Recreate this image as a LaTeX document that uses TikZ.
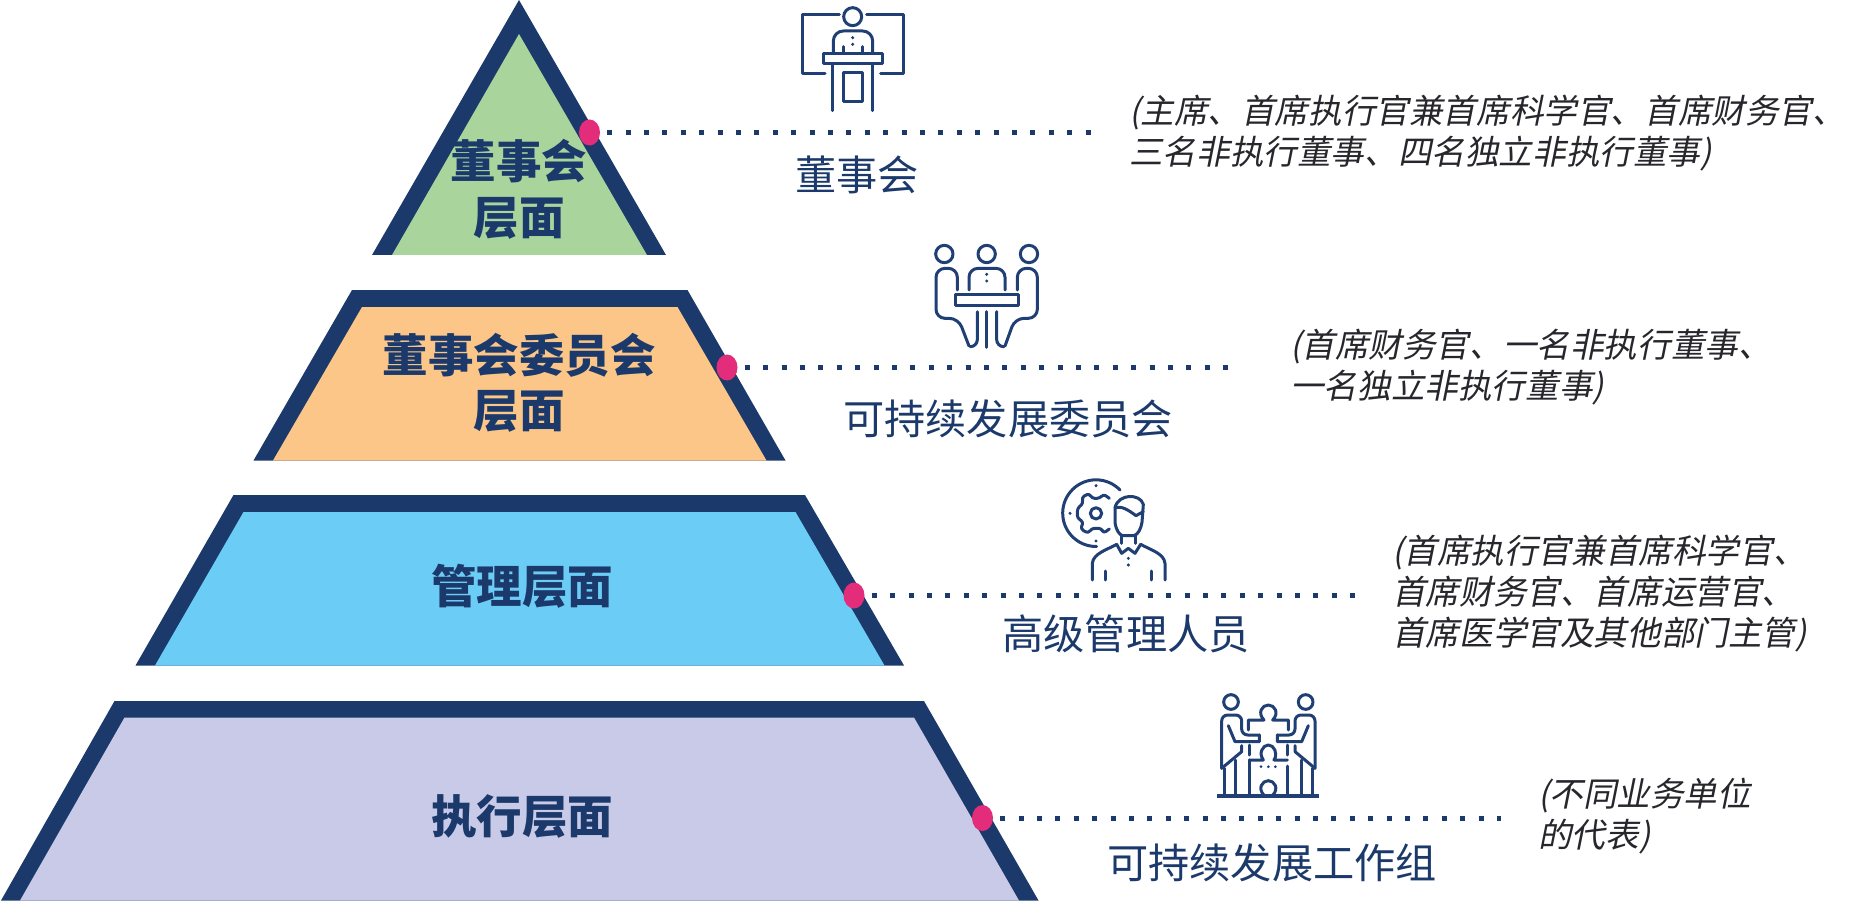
\documentclass[tikz,border=0pt]{standalone}
\usepackage{fontspec}
\usetikzlibrary{shapes.geometric}
\setmainfont{Noto Sans CJK SC}
\newfontfamily\cjkit[FakeSlant=0.2]{Noto Sans CJK SC}
\definecolor{navy}{HTML}{1B3A6B}
\definecolor{iconc}{HTML}{1F3F75}
\definecolor{pinkdot}{HTML}{E32C7A}
\definecolor{tgreen}{HTML}{A9D59C}
\definecolor{torange}{HTML}{FCC688}
\definecolor{tblue}{HTML}{6BCDF6}
\definecolor{tlav}{HTML}{C8CAE7}
\definecolor{inkc}{HTML}{26262C}
\tikzset{
 layerlabel/.style={text=navy,font=\fontsize{45.5}{56}\selectfont\bfseries,align=center,inner sep=0pt},
 bodytitle/.style={text=navy,font=\fontsize{41.2}{50}\selectfont,inner sep=0pt},
 members/.style={text=inkc,font=\cjkit\fontsize{33.6}{41}\selectfont,align=left,anchor=west,inner sep=0pt},
 pin/.style={ellipse,fill=pinkdot,inner sep=0pt,minimum width=21pt,minimum height=26pt},
 leader/.style={navy,line width=5pt,dash pattern=on 5pt off 13.4pt,shorten <=7pt},
 icon/.style={iconc,line width=3pt,line cap=round,line join=round},
 idot/.style={iconc,fill=iconc,draw=none},
}
\begin{document}
\begin{tikzpicture}[x=1pt,y=-1pt]
\useasboundingbox (0,0) rectangle (1872,912);
% pyramid layers
\fill[navy] (519,0) -- (666,255) -- (372,255) -- cycle;
\fill[tgreen] (519,34) -- (647,255) -- (392,255) -- cycle;
\fill[navy] (352,290) -- (687.5,290) -- (785.5,460.5) -- (253.5,460.5) -- cycle;
\fill[torange] (362,307) -- (677.5,307) -- (766.5,460.5) -- (273,460.5) -- cycle;
\fill[navy] (233.5,495) -- (805,495) -- (904,665.5) -- (135.5,665.5) -- cycle;
\fill[tblue] (243.5,512) -- (795.5,512) -- (884.5,665.5) -- (155,665.5) -- cycle;
\fill[navy] (114.5,701) -- (924,701) -- (1038.5,900.5) -- (1,900.5) -- cycle;
\fill[tlav] (124.5,717.5) -- (914,717.5) -- (1019,900.5) -- (20,900.5) -- cycle;
% layer labels
\node[layerlabel] (l1) at (519,189.5) {董事会\\[-0.5pt]层面};
\node[layerlabel] (l2) at (519,383) {董事会委员会\\[-0.5pt]层面};
\node[layerlabel] (l3) at (522,586) {管理层面};
\node[layerlabel] (l4) at (522,816) {执行层面};
% pins and leaders
\node[pin] (p1) at (589.5,132.5) {};
\node[pin] (p2) at (727,367.5) {};
\node[pin] (p3) at (854,595.5) {};
\node[pin] (p4) at (982.5,818) {};
\coordinate (e1) at (1091,132.5);
\coordinate (e2) at (1229,367.5);
\coordinate (e3) at (1355,595.5);
\coordinate (e4) at (1501,818);
\draw[leader] (p1.east) -- (e1);
\draw[leader] (p2.east) -- (e2);
\draw[leader] (p3.east) -- (e3);
\draw[leader] (p4.east) -- (e4);
% titles
\node[bodytitle] (t1) at (857,174.5) {董事会};
\node[bodytitle] (t2) at (1008,418.5) {可持续发展委员会};
\node[bodytitle] (t3) at (1126,633.5) {高级管理人员};
\node[bodytitle] (t4) at (1272,862.5) {可持续发展工作组};
% member lists
\node[members] (m1) at (1129,133) {(主席、首席执行官兼首席科学官、首席财务官、\\三名非执行董事、四名独立非执行董事)};
\node[members] (m2) at (1290,367) {(首席财务官、一名非执行董事、\\一名独立非执行董事)};
\node[members] (m3) at (1392,594) {(首席执行官兼首席科学官、\\首席财务官、首席运营官、\\首席医学官及其他部门主管)};
\node[members] (m4) at (1538,816) {(不同业务单位\\的代表)};
% icon 1: speaker
\begin{scope}[shift={(760,0)},x=0.33333pt,y=-0.33333pt]
\draw[icon] (278,50) circle (27);
\draw[icon] (238,45) -- (128,45) -- (128,220) -- (195,220);
\draw[icon] (320,45) -- (430,45) -- (430,220) -- (362,220);
\draw[icon,rounded corners=10pt] (220,160) -- (220,93) -- (338,93) -- (338,160);
\draw[icon] (250,140) -- (250,160) (308,140) -- (308,160);
\fill[idot] (278,113) circle (5) (278,133) circle (5);
\draw[icon] (190,160) rectangle (368,192);
\draw[icon] (218,192) -- (218,332) (338,192) -- (338,332);
\draw[icon] (250,218) rectangle (308,305);
\end{scope}
% icon 2: meeting
\begin{scope}[shift={(900,230)},x=0.33333pt,y=-0.33333pt]
\draw[icon] (133,72) circle (26) (260,72) circle (26) (387,72) circle (26);
\draw[icon,rounded corners=9pt] (172,180) -- (172,115) -- (108,115) -- (108,265) -- (175,265) -- (207,348);
\draw[icon,rounded corners=9pt] (352,180) -- (352,115) -- (412,115) -- (412,265) -- (345,265) -- (315,348);
\draw[icon,rounded corners=9pt] (207,180) -- (207,115) -- (315,115) -- (315,180);
\fill[idot] (260,133) circle (5) (260,153) circle (5);
\draw[icon] (167,195) rectangle (355,228);
\draw[icon] (260,245) -- (260,352);
\draw[icon,rounded corners=7pt] (232,245) -- (232,350) -- (212,350);
\draw[icon,rounded corners=7pt] (290,245) -- (290,350) -- (312,350);
\end{scope}
% icon 3: manager
\begin{scope}[shift={(1040,465)},x=0.33333pt,y=-0.33333pt]
\draw[icon] (240,75) arc[start angle=-44,end angle=-271,radius=100];
\fill[idot] (168,62) circle (5) (90,145) circle (5) (168,228) circle (5);
\draw[icon] (168,145) circle (17);
\draw[icon,rounded corners=3pt] (208,100) -- (190,87) -- (180,100) -- (155,100) -- (148,85) -- (125,97) -- (130,115) -- (112,130) -- (112,160) -- (130,170) -- (122,192) -- (145,205) -- (155,190) -- (185,190) -- (190,205) -- (208,192);
\draw[icon,fill=white] (225,128) -- (225,172) .. controls (228,195) and (238,210) .. (248,212) -- (282,212) .. controls (295,208) and (303,190) .. (306,172) -- (310,118) .. controls (300,85) and (235,85) .. (225,128);
\draw[icon] (225,128) .. controls (245,122) and (265,135) .. (288,152) -- (310,140);
\draw[icon] (245,212) -- (245,235) (285,212) -- (285,235);
\draw[icon] (230,238) -- (245,265) -- (265,250) -- (285,265) -- (302,238);
\draw[icon] (157,345) -- (157,295) .. controls (160,265) and (200,255) .. (230,238);
\draw[icon] (375,345) -- (375,295) .. controls (372,265) and (332,255) .. (302,238);
\fill[idot] (265,280) circle (5) (265,300) circle (5);
\draw[icon] (197,318) -- (197,345) (335,318) -- (335,345);
\end{scope}
% icon 4: working group
\begin{scope}[shift={(1200,680)},x=0.33333pt,y=-0.33333pt]
\draw[icon] (93,66) circle (22) (317,66) circle (22);
\draw[icon,rounded corners=6pt] (65,265) -- (65,105) -- (125,105) -- (125,165) -- (178,165);
\draw[icon] (178,165) -- (178,185) -- (105,185) -- (85,137);
\draw[icon] (65,265) -- (125,215) -- (125,197);
\draw[icon] (72,265) -- (72,345) (107,240) -- (107,345);
\draw[icon,rounded corners=6pt] (345,265) -- (345,105) -- (285,105) -- (285,165) -- (232,165);
\draw[icon] (232,165) -- (232,185) -- (305,185) -- (325,137);
\draw[icon] (345,265) -- (285,215) -- (285,197);
\draw[icon] (338,265) -- (338,345) (303,240) -- (303,345);
\draw[icon] (145,150) -- (145,120) -- (192,120) .. controls (172,100) and (185,75) .. (205,75) .. controls (225,75) and (238,100) .. (218,120) -- (265,120) -- (265,150);
\draw[icon] (148,195) -- (148,225) (262,195) -- (262,225);
\draw[icon] (148,240) -- (190,240) .. controls (175,220) and (188,195) .. (205,195) .. controls (222,195) and (235,220) .. (222,240) -- (262,240);
\draw[icon] (148,240) -- (148,345) (262,258) -- (262,345);
\fill[idot] (183,260) circle (4.5) (205,260) circle (4.5) (226,260) circle (4.5);
\draw[icon,line width=4pt,line cap=butt] (52,348) -- (358,348);
\draw[icon] (192,346) .. controls (172,325) and (187,302) .. (205,302) .. controls (223,302) and (238,325) .. (218,346);
\end{scope}
\end{tikzpicture}
\end{document}
